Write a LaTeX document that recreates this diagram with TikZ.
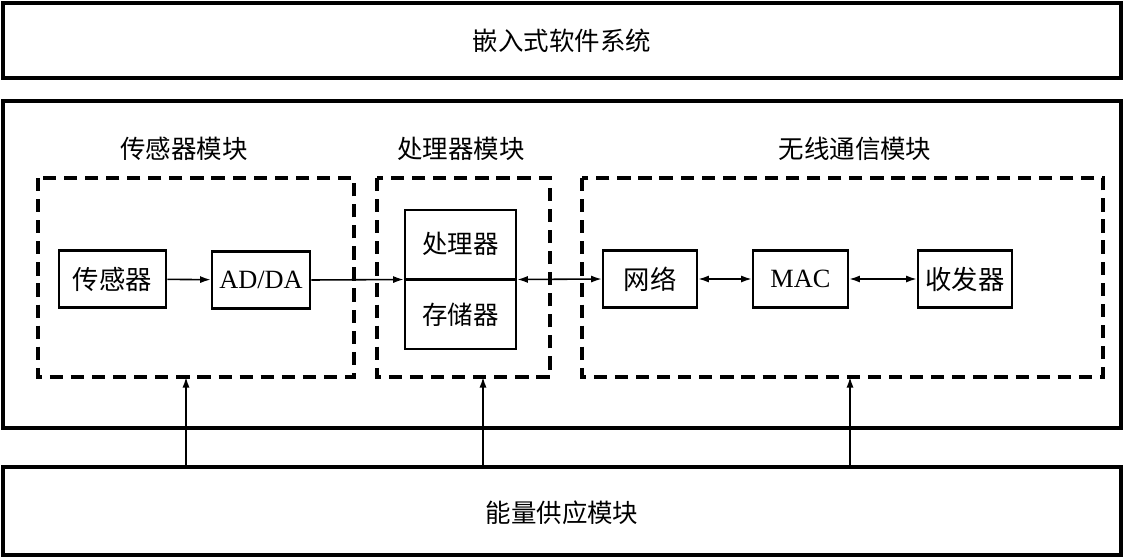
\documentclass[tikz,border=0pt]{standalone}
\usepackage{fontspec}
\setmainfont{Liberation Serif}
\newfontfamily\cjk{Noto Sans CJK SC}
\usetikzlibrary{arrows.meta}
\begin{document}
\begin{tikzpicture}[x=0.02cm,y=-0.02cm,
  bigbox/.style={draw,line width=2pt},
  dbox/.style={draw,line width=1.9pt,dash pattern=on 7.5pt off 4.5pt},
  blk/.style={draw,line width=1.5pt,minimum height=1.14cm,inner sep=0pt,font=\fontsize{15}{17}\selectfont},
  lbl/.style={font=\cjk\fontsize{14.5}{17}\selectfont,inner sep=0pt},
  arr/.style={line width=0.9pt,-{Latex[length=6pt,width=4pt]}},
  darr/.style={line width=0.9pt,{Latex[length=6pt,width=4pt]}-{Latex[length=6pt,width=4pt]}}
]
\useasboundingbox (0,0) rectangle (1125,558);
\fill[white] (0,0) rectangle (1125,558);
% big boxes
\draw[bigbox] (3,3) rectangle (1121,78);
\node[lbl] (soft) at (562,41) {嵌入式软件系统};
\draw[bigbox] (3,101) rectangle (1121,428);
\draw[bigbox] (3,467) rectangle (1121,555);
\node[lbl] (energy) at (562,513) {能量供应模块};
\coordinate (etop1) at (186,467);
\coordinate (etop2) at (483,467);
\coordinate (etop3) at (850,467);
% dashed modules
\draw[dbox] (38,178) rectangle (354,377);
\draw[dbox] (377,178) rectangle (550,377);
\draw[dbox] (582,178) rectangle (1103,377);
\coordinate (m1) at (186,377);
\coordinate (m2) at (483,377);
\coordinate (m3) at (850,377);
\node[lbl] (t1) at (184,149) {传感器模块};
\node[lbl] (t2) at (461,149) {处理器模块};
\node[lbl] (t3) at (855,149) {无线通信模块};
% blocks
\node[blk,minimum width=2.14cm] (sensor) at (112.5,279) {\cjk 传感器};
\node[blk,minimum width=1.96cm] (adda) at (261,280) {AD/DA};
\node[draw,line width=1.5pt,minimum width=2.22cm,minimum height=2.78cm,inner sep=0pt] (proc) at (460.5,279.5) {};
\draw[line width=1.5pt] (proc.west) -- (proc.east);
\node[lbl] (p1) at (460.5,244) {处理器};
\node[lbl] (p2) at (460.5,315) {存储器};
\node[blk,minimum width=1.88cm] (net) at (650,279) {\cjk 网络};
\node[blk,minimum width=1.9cm] (mac) at (800.5,279) {MAC};
\node[blk,minimum width=1.88cm] (rf) at (965,279) {\cjk 收发器};
% connectors
\draw[arr] (sensor) -- (adda);
\draw[arr] (adda.east) -- (proc.west);
\draw[darr] (proc.east) -- (net.west);
\draw[darr] (net) -- (mac);
\draw[darr] (mac) -- (rf);
\draw[arr] (etop1) -- (m1);
\draw[arr] (etop2) -- (m2);
\draw[arr] (etop3) -- (m3);
\end{tikzpicture}
\end{document}
